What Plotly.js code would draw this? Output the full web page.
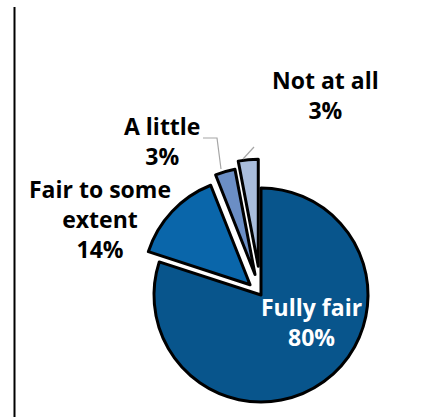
<!DOCTYPE html>
<html>
<head>
<meta charset="utf-8">
<script src="https://cdn.plot.ly/plotly-3.0.1.min.js"></script>
<style>
html,body{margin:0;padding:0;background:#fff;overflow:hidden;width:443px;height:417px;}
#wrap{width:443px;height:417px;overflow:hidden;position:relative;}
#chart{width:443px;height:500px;}
</style>
</head>
<body>
<div id="wrap"><div id="chart"></div></div>
<script>
const categories = ["Fully fair", "Fair to some extent", "A little", "Not at all"];
const values = [80, 14, 3, 3];
const valueLabels = ["80%", "14%", "3%", "3%"];
const labelTexts = ["Fully fair", "Fair to some<br>extent", "A little", "Not at all"];

const W = 443, H = 500;
const colors = ["#08558c", "#0a66aa", "#6b8ec5", "#a9bddc"];
const pulls = [0, 0.14, 0.2, 0.27];
const cx = 261, cy = 295, R = 107;
const maxPull = Math.max(...pulls);
const half = R * (1 + maxPull);

const px = x => x / W;
const py = y => (H - y) / H;

const trace = {
  type: "pie",
  labels: categories,
  values: values,
  sort: false,
  direction: "clockwise",
  rotation: 0,
  pull: pulls,
  textinfo: "none",
  hoverinfo: "label+percent",
  marker: {colors: colors, line: {color: "#000000", width: 3}},
  domain: {x: [px(cx - half), px(cx + half)], y: [py(cy + half), py(cy - half)]},
  showlegend: false
};

const labelPos = [[311.5, 322, "#ffffff"], [100, 219.5, "#000000"], [162, 140.5, "#000000"], [325, 95, "#000000"]];
const annotations = categories.map((c, i) => ({
  xref: "paper", yref: "paper",
  x: px(labelPos[i][0]), y: py(labelPos[i][1]),
  xanchor: "center", yanchor: "middle",
  text: labelTexts[i] + "<br>" + valueLabels[i],
  showarrow: false,
  align: "center",
  font: {family: "Open Sans, sans-serif", size: 23, color: labelPos[i][2], weight: "bold"}
}));

const shapes = [
  {type: "line", xref: "paper", yref: "paper", x0: px(14.5), x1: px(14.5), y0: py(7), y1: py(420), line: {color: "#000000", width: 2}},
  {type: "path", xref: "paper", yref: "paper",
   path: "M " + px(203) + "," + py(138) + " L " + px(217) + "," + py(138) + " L " + px(221) + "," + py(169),
   line: {color: "#a6a6a6", width: 1.2}},
  {type: "line", xref: "paper", yref: "paper", x0: px(254), y0: py(147), x1: px(243), y1: py(159), line: {color: "#a6a6a6", width: 1.2}}
];

Plotly.newPlot("chart", [trace], {
  width: W, height: H,
  margin: {l: 0, r: 0, t: 0, b: 0},
  paper_bgcolor: "#ffffff",
  annotations: annotations,
  shapes: shapes,
  font: {family: "Open Sans, sans-serif"}
}, {displayModeBar: false, staticPlot: true});
</script>
</body>
</html>
